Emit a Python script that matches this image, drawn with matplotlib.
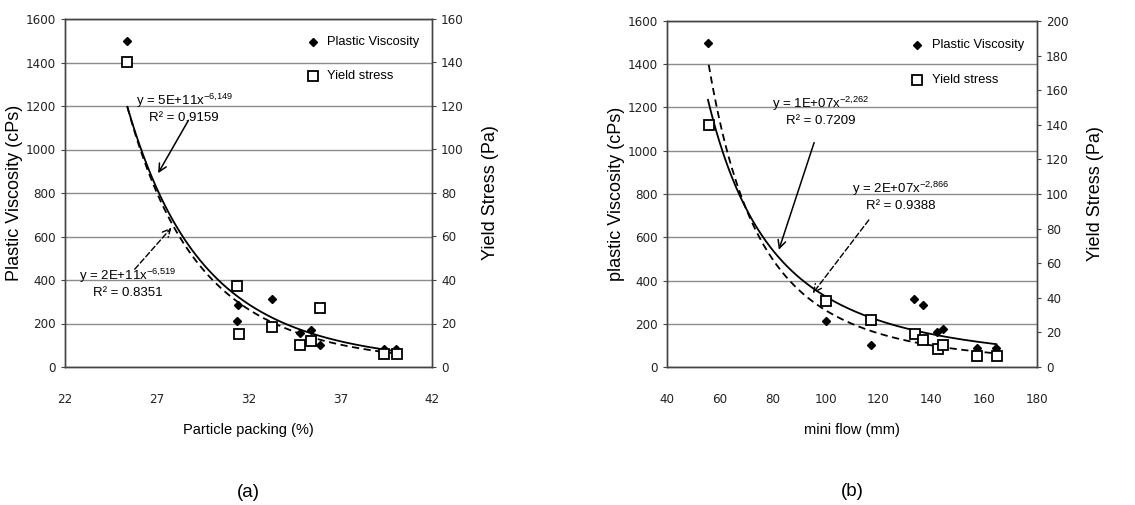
import numpy as np
import matplotlib
matplotlib.use('Agg')
import matplotlib.pyplot as plt
from matplotlib import font_manager

plt.rcParams['font.family'] = ['Liberation Sans', 'DejaVu Sans']
plt.rcParams['mathtext.fontset'] = 'custom'
plt.rcParams['mathtext.rm'] = 'Liberation Sans'
plt.rcParams['mathtext.default'] = 'regular'

# narrow face for numbers and small text, if one is around
narrow_files = [f.fname for f in font_manager.fontManager.ttflist
                if ('Condensed' in f.fname or 'Narrow' in f.fname)
                and 'Bold' not in f.fname and 'Oblique' not in f.fname
                and 'Italic' not in f.fname and 'Light' not in f.fname]
if narrow_files:
    NARROW = dict(fontproperties=font_manager.FontProperties(fname=sorted(narrow_files)[0]))
    tick_size = 9.5
else:
    NARROW = {}
    tick_size = 8.5

# (a) particle packing
pack_pv_x = [25.4, 31.45, 31.4, 33.3, 34.8, 35.4, 35.9, 39.4, 40.05]
pack_pv_y = [1500, 287, 210, 314, 158, 172, 100, 84, 84]
pack_ys_x = [25.4, 31.4, 31.5, 33.3, 34.8, 35.4, 35.9, 39.4, 40.1]
pack_ys_y = [140, 37.3, 15.3, 18.4, 10, 12, 27.1, 6, 6]
pack_xticks = [22, 27, 32, 37, 42]

# (b) mini flow
flow_pv_x = [55.5, 100, 117.3, 133.6, 136.7, 142.1, 144.3, 157.3, 164.6]
flow_pv_y = [1500, 211, 100, 316, 285, 162, 174, 88, 88]
flow_ys_x = [55.8, 100, 117.3, 133.7, 136.7, 142.4, 144.4, 157.3, 164.8]
flow_ys_y = [140, 38, 27.4, 19.3, 15.4, 10.6, 12.9, 6.2, 6.2]
flow_xticks = [40, 60, 80, 100, 120, 140, 160, 180]

# power trend lines y = a * x^-b  (coefficient, exponent)
pack_pv_fit = [5.2e11, 6.149]
pack_ys_fit = [1.72e11, 6.519]
flow_pv_fit = [1.09e7, 2.262]
flow_ys_fit = [1.77e7, 2.866]

pack_labels = ['y = 5E+11x$^{-6{,}149}$\nR² = 0.9159', 'y = 2E+11x$^{-6{,}519}$\nR² = 0.8351']
flow_labels = ['y = 1E+07x$^{-2{,}262}$\nR² = 0.7209', 'y = 2E+07x$^{-2{,}866}$\nR² = 0.9388']

W, H = 1135, 505
fig = plt.figure(figsize=(W / 100, H / 100), dpi=100)


def px_rect(x0, y0, x1, y1):
    return [x0 / W, 1 - y1 / H, (x1 - x0) / W, (y1 - y0) / H]


def style(ax, ax2):
    for a in (ax, ax2):
        for s in a.spines.values():
            s.set_color('#444444')
            s.set_linewidth(1.0)
    ax.tick_params(axis='x', length=0, pad=19)
    ax.tick_params(axis='y', length=3, color='#444444')
    ax2.tick_params(axis='y', length=3, color='#444444')
    for lab in ax.get_xticklabels() + ax.get_yticklabels() + ax2.get_yticklabels():
        if NARROW:
            lab.set_fontproperties(NARROW['fontproperties'])
        lab.set_fontsize(tick_size)
        lab.set_color('#222222')
    ax.grid(axis='y', color='#8c8c8c', linewidth=1.0)
    ax.set_axisbelow(True)


def panel(rect, xlim, xticks, ylim2, yticks2, pv_x, pv_y, ys_x, ys_y, pv_fit, ys_fit,
          xlabel, ylabel, sub):
    ax = fig.add_axes(px_rect(*rect))
    ax2 = ax.twinx()
    ax.set_xlim(*xlim)
    ax.set_xticks(xticks)
    ax.set_ylim(0, 1600)
    ax.set_yticks(range(0, 1601, 200))
    ax2.set_ylim(*ylim2)
    ax2.set_yticks(yticks2)
    style(ax, ax2)

    ax.plot(pv_x, pv_y, 'D', color='black', ms=4.5, zorder=5)
    ax2.plot(ys_x, ys_y, 's', mfc='white', mec='black', mew=1.3, ms=7.5, zorder=5)

    xs = np.linspace(min(pv_x), max(pv_x), 200)
    ax.plot(xs, pv_fit[0] * xs ** -pv_fit[1], color='black', lw=1.3, zorder=4)
    xs = np.linspace(min(ys_x), max(ys_x), 200)
    ax2.plot(xs, ys_fit[0] * xs ** -ys_fit[1], color='black', lw=1.3,
             ls=(0, (4, 2.5)), zorder=4)

    ax.set_xlabel(xlabel, fontsize=10.5, labelpad=12)
    ax.set_ylabel(ylabel, fontsize=13, labelpad=2)
    ax2.set_ylabel('Yield Stress (Pa)', fontsize=13, labelpad=13)
    ax.text(0.5, -0.36, sub, transform=ax.transAxes, ha='center', va='center', fontsize=13.5)
    return ax, ax2


def legend_items(ax, x, y1, y2):
    ax.plot([x], [y1], 'D', transform=ax.transAxes, color='black', ms=4.5, clip_on=False)
    ax.plot([x], [y2], 's', transform=ax.transAxes, mfc='white', mec='black', mew=1.3,
            ms=7.5, clip_on=False)
    ax.text(x + 0.04, y1, 'Plastic Viscosity', transform=ax.transAxes, va='center', fontsize=9.3)
    ax.text(x + 0.04, y2, 'Yield stress', transform=ax.transAxes, va='center', fontsize=9.3)


# ---- panel (a)
axa, axa2 = panel((65, 19, 432, 367), (22, 42), pack_xticks, (0, 160), range(0, 161, 20),
                  pack_pv_x, pack_pv_y, pack_ys_x, pack_ys_y, pack_pv_fit, pack_ys_fit,
                  'Particle packing (%)', 'Plastic Viscosity (cPs)', '(a)')
legend_items(axa, 0.675, 0.935, 0.835)
axa.text(28.5, 1190, pack_labels[0], ha='center', va='center', fontsize=9.5, linespacing=1.2)
axa.annotate('', xy=(27.0, 880), xytext=(28.8, 1145),
             arrowprops=dict(arrowstyle='->', color='black', lw=1.1, mutation_scale=14))
axa.text(25.4, 385, pack_labels[1], ha='center', va='center', fontsize=9.5, linespacing=1.2)
axa.annotate('', xy=(27.9, 650), xytext=(25.7, 440),
             arrowprops=dict(arrowstyle='->', color='black', lw=1.0, ls=(0, (4, 2)),
                             mutation_scale=14))

# ---- panel (b)
axb, axb2 = panel((667, 21, 1037, 367), (40, 180), flow_xticks, (0, 200), range(0, 201, 20),
                  flow_pv_x, flow_pv_y, flow_ys_x, flow_ys_y, flow_pv_fit, flow_ys_fit,
                  'mini flow (mm)', 'plastic Viscosity (cPs)', '(b)')
legend_items(axb, 0.675, 0.93, 0.83)
axb.text(98, 1185, flow_labels[0], ha='center', va='center', fontsize=9.5, linespacing=1.2)
axb.annotate('', xy=(82, 530), xytext=(96, 1050),
             arrowprops=dict(arrowstyle='->', color='black', lw=1.1, mutation_scale=14))
axb.text(128.5, 790, flow_labels[1], ha='center', va='center', fontsize=9.5, linespacing=1.2)
axb.annotate('', xy=(94.5, 330), xytext=(117, 690),
             arrowprops=dict(arrowstyle='->', color='black', lw=1.0, ls=(0, (4, 2)),
                             mutation_scale=14))

fig.savefig('out.png', dpi=100)
